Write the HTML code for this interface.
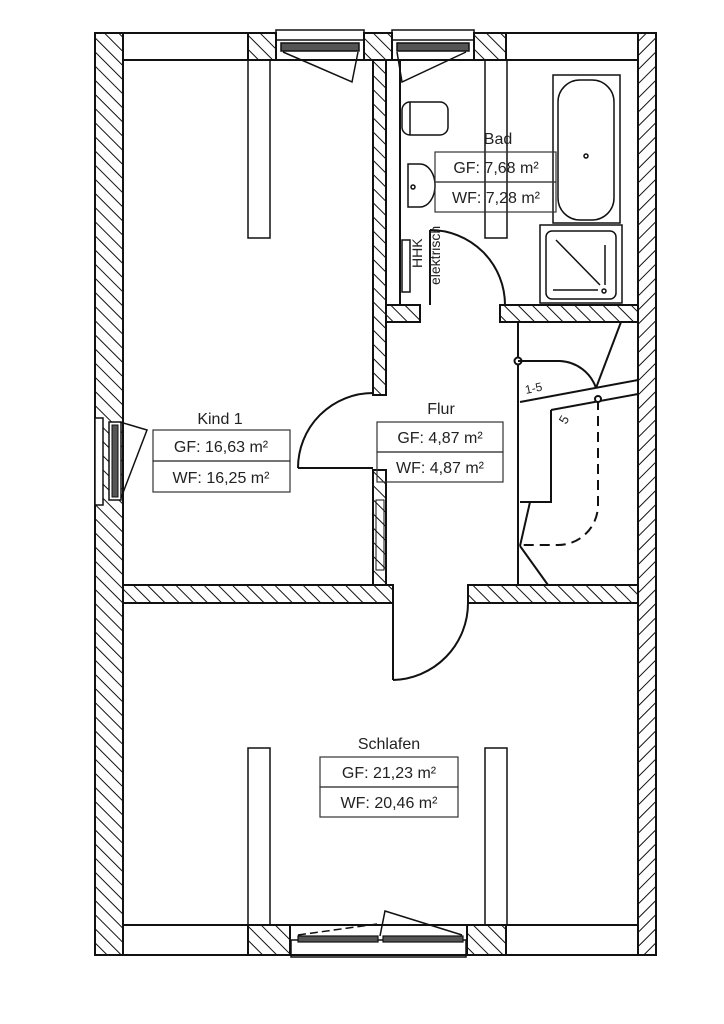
<!DOCTYPE html>
<html><head><meta charset="utf-8"><style>
html,body{margin:0;padding:0;background:#fff;}
svg{display:block;}
text{font-family:"Liberation Sans",sans-serif;fill:#222;}
</style></head><body>
<svg width="724" height="1024" viewBox="0 0 724 1024" xmlns="http://www.w3.org/2000/svg">
<defs>
<pattern id="h1" width="10" height="10" patternUnits="userSpaceOnUse" patternTransform="rotate(-45)">
<rect width="10" height="10" fill="#fff"/><line x1="0" y1="0" x2="0" y2="10" stroke="#111" stroke-width="2"/></pattern>
<pattern id="h2" width="10" height="10" patternUnits="userSpaceOnUse" patternTransform="rotate(45)">
<rect width="10" height="10" fill="#fff"/><line x1="0" y1="0" x2="0" y2="10" stroke="#111" stroke-width="2"/></pattern>
</defs>
<g stroke="#111" stroke-width="2" fill="none">
<rect x="95" y="33" width="28" height="922" fill="url(#h1)"/>
<rect x="638" y="33" width="18" height="922" fill="url(#h2)"/>
<line x1="123" y1="33" x2="248" y2="33"/><line x1="123" y1="60" x2="638" y2="60"/>
<line x1="506" y1="33" x2="638" y2="33"/>
<rect x="248" y="33" width="28" height="27" fill="url(#h1)"/>
<rect x="364" y="33" width="28" height="27" fill="url(#h1)"/>
<rect x="474" y="33" width="32" height="27" fill="url(#h1)"/>
<line x1="123" y1="925" x2="638" y2="925"/><line x1="123" y1="955" x2="638" y2="955"/>
<rect x="248" y="925" width="42" height="30" fill="url(#h1)"/>
<rect x="467" y="925" width="39" height="30" fill="url(#h1)"/>
<!-- top windows -->
<rect x="276" y="30" width="88" height="10" stroke-width="1.5"/>
<rect x="281" y="43" width="78" height="8" stroke-width="1.5" fill="#555"/>
<polyline points="283,52 352,82 358,52" stroke-width="1.5"/>
<rect x="392" y="30" width="82" height="10" stroke-width="1.5"/>
<rect x="397" y="43" width="72" height="8" stroke-width="1.5" fill="#555"/>
<polyline points="466,52 402,82 397,52" stroke-width="1.5"/>
<!-- bottom window -->
<rect x="291" y="940" width="175" height="17" stroke-width="1.5"/>
<rect x="298" y="936" width="80" height="6" fill="#555" stroke-width="1.2"/>
<rect x="383" y="936" width="80" height="6" fill="#555" stroke-width="1.2"/>
<line x1="298" y1="935" x2="377" y2="924" stroke-dasharray="8,4" stroke-width="1.5"/>
<polyline points="380,936 385,911 462,935" stroke-width="1.5"/>
<!-- left window -->
<rect x="95" y="418" width="8" height="87" fill="#fff" stroke-width="1.5"/>
<rect x="109" y="422" width="12" height="78" fill="#fff" stroke-width="1.5"/>
<rect x="112" y="425" width="6" height="72" fill="#555" stroke-width="1"/>
<polyline points="120,422 147,430 121,498" stroke-width="1.5"/>
<!-- interior walls -->
<rect x="373" y="60" width="13" height="335" fill="url(#h1)"/>
<rect x="373" y="470" width="13" height="115" fill="url(#h1)"/>
<line x1="400" y1="60" x2="400" y2="305"/>
<rect x="386" y="305" width="34" height="17" fill="url(#h1)"/>
<rect x="500" y="305" width="138" height="17" fill="url(#h1)"/>
<rect x="123" y="585" width="270" height="18" fill="url(#h1)"/>
<rect x="468" y="585" width="170" height="18" fill="url(#h1)"/>
<rect x="376" y="500" width="8" height="70" stroke-width="1"/>
<!-- doors -->
<line x1="430" y1="230" x2="430" y2="305"/>
<path d="M430,230 A75,75 0 0 1 505,305"/>
<line x1="298" y1="468" x2="373" y2="468"/>
<path d="M298,468 A75,75 0 0 1 373,393"/>
<line x1="393" y1="603" x2="393" y2="680"/>
<path d="M393,680 A77,77 0 0 0 468,603"/>
<g stroke-width="1.5">
<rect x="248" y="60" width="22" height="178"/>
<rect x="485" y="60" width="22" height="178"/>
<rect x="248" y="748" width="22" height="177"/>
<rect x="485" y="748" width="22" height="177"/>
</g>
<!-- bad fixtures -->
<g stroke-width="1.5">
<rect x="402" y="102" width="46" height="33" rx="8"/>
<line x1="410" y1="102" x2="410" y2="135"/>
<path d="M408,164 L420,164 A14,20 0 0 1 420,207 L408,207 Z"/>
<circle cx="413" cy="187" r="2"/>
<rect x="553" y="75" width="67" height="148"/>
<rect x="558" y="80" width="56" height="140" rx="22"/>
<circle cx="586" cy="156" r="2"/>
<rect x="540" y="225" width="82" height="78"/>
<rect x="546" y="231" width="70" height="68" rx="6"/>
<line x1="556" y1="240" x2="600" y2="285"/>
<line x1="605" y1="245" x2="605" y2="285"/>
<line x1="553" y1="290" x2="598" y2="290"/>
<circle cx="604" cy="291" r="2"/>
<rect x="402" y="240" width="8" height="52"/>
</g>
<!-- stairs -->
<g stroke-width="2">
<line x1="518" y1="322" x2="518" y2="585"/>
<circle cx="518" cy="361" r="3.5" fill="#fff"/>
<path d="M518,361 L560,361 A40,40 0 0 1 596,388"/>
<line x1="621" y1="322" x2="596" y2="388"/>
<line x1="520" y1="402" x2="638" y2="380"/>
<line x1="551" y1="410" x2="638" y2="394"/>
<polyline points="551,410 551,502 520,502"/>
<line x1="530" y1="502" x2="520" y2="546"/>
<line x1="520" y1="546" x2="548" y2="585"/>
<path d="M598,400 L598,505 A40,40 0 0 1 558,545 L520,545" stroke-dasharray="10,6"/>
<circle cx="598" cy="399" r="3" fill="#fff"/>
</g>
</g>
<text x="526" y="394" font-size="12" transform="rotate(-12 526 394)">1-5</text>
<text x="566" y="425" font-size="13" transform="rotate(-60 566 425)">5</text>
<g stroke="#333" stroke-width="1.2" fill="none">
<rect x="153" y="430" width="137" height="31"/><rect x="153" y="461" width="137" height="31"/>
<rect x="377" y="422" width="126" height="30"/><rect x="377" y="452" width="126" height="30"/>
<rect x="435" y="152" width="121" height="30"/><rect x="435" y="182" width="121" height="30"/>
<rect x="320" y="757" width="138" height="30"/><rect x="320" y="787" width="138" height="30"/>
</g>
<g font-size="16" text-anchor="middle">
<text x="220" y="424">Kind 1</text>
<text x="221" y="452">GF: 16,63 m²</text>
<text x="221" y="483">WF: 16,25 m²</text>
<text x="441" y="414">Flur</text>
<text x="440" y="443">GF: 4,87 m²</text>
<text x="440" y="473">WF: 4,87 m²</text>
<text x="498" y="144">Bad</text>
<text x="496" y="173">GF: 7,68 m²</text>
<text x="496" y="203">WF: 7,28 m²</text>
<text x="389" y="749">Schlafen</text>
<text x="389" y="778">GF: 21,23 m²</text>
<text x="389" y="808">WF: 20,46 m²</text>
</g>
<text x="422" y="268" font-size="14" transform="rotate(-90 422 268)">HHK</text>
<text x="440" y="285" font-size="14" transform="rotate(-90 440 285)">elektrisch</text>
</svg>
</body></html>
